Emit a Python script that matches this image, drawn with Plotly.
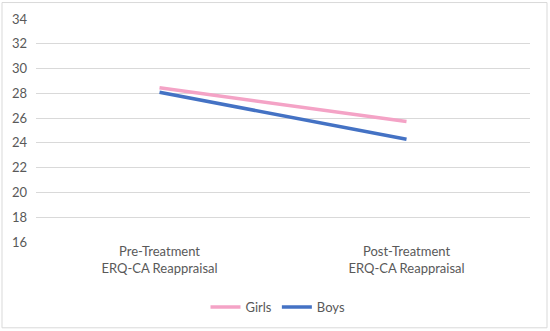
import plotly.graph_objects as go

categories = ["Pre-Treatment<br>ERQ-CA Reappraisal", "Post-Treatment<br>ERQ-CA Reappraisal"]
girls = [28.45, 25.73]
boys = [28.08, 24.3]
y_ticks = [16, 18, 20, 22, 24, 26, 28, 30, 32, 34]

fig = go.Figure()
fig.add_trace(go.Scatter(x=categories, y=girls, mode="lines", name="Girls",
                         line=dict(color="#F4A3C6", width=3.5)))
fig.add_trace(go.Scatter(x=categories, y=boys, mode="lines", name="Boys",
                         line=dict(color="#4472C4", width=3.5)))

fig.update_layout(
    width=550, height=331,
    autosize=False,
    margin=dict(l=36, r=20, t=18.5, b=89, autoexpand=False),
    paper_bgcolor="white", plot_bgcolor="white",
    font=dict(family="Lato, Open Sans, sans-serif", size=13, color="#595959"),
    showlegend=True,
    legend=dict(orientation="h", x=(278 - 36) / 494, xanchor="center",
                yref="container", y=(331 - 292) / 331, yanchor="top",
                font=dict(size=13, color="#595959")),
    xaxis=dict(range=[-0.5, 1.5], showgrid=False, showline=False, zeroline=False,
               automargin=False,
               ticks="", tickfont=dict(size=13, color="#595959")),
    yaxis=dict(range=[16, 34], tickvals=y_ticks, showgrid=True, gridcolor="#D9D9D9",
               gridwidth=1, zeroline=False, showline=False, ticks="",
               automargin=False, ticklabelstandoff=8,
               tickfont=dict(size=13, color="#595959")),
    shapes=[dict(type="rect", xref="paper", yref="paper",
                 x0=(2 - 36) / 494, x1=(547 - 36) / 494,
                 y0=(242 - 328) / 223.5, y1=(242 - 2) / 223.5,
                 line=dict(color="#D9D9D9", width=1), layer="below")],
)

fig.write_html("out.html", config={"displayModeBar": False},
               post_script="document.body.style.margin='0';document.body.style.overflow='hidden';")
